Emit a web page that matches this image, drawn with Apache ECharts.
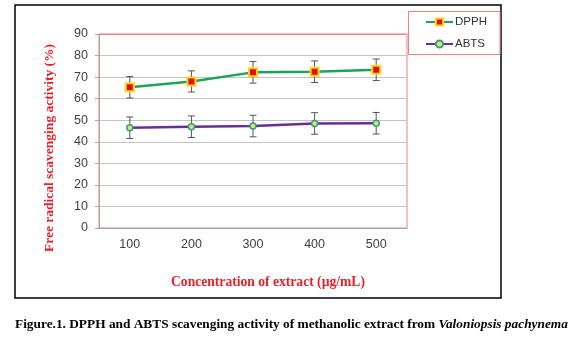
<!DOCTYPE html>
<html><head><meta charset="utf-8">
<script src="https://cdn.jsdelivr.net/npm/echarts@6/dist/echarts.min.js"></script>
<style>html,body{margin:0;padding:0;background:#fff}#c{width:573px;height:337px}</style>
</head><body><div id="c"></div>
<script>
var categories = ['100', '200', '300', '400', '500'];
var dpph = [65.3, 68.0, 72.2, 72.5, 73.4];
var abts = [46.5, 47.0, 47.3, 48.5, 48.6];
var dpphErr = [5, 4.9, 5, 5, 5];
var abtsErr = [5, 5, 5, 5, 5];
var yTicks = {min: 0, max: 90, interval: 10};

function errData(vals, errs) {
  return vals.map(function (v, i) { return [i, v - errs[i], v + errs[i]]; });
}
function errRender(params, api) {
  var lo = api.coord([api.value(0), api.value(1)]);
  var hi = api.coord([api.value(0), api.value(2)]);
  var w = 3.5;
  var st = {stroke: '#555', lineWidth: 1};
  return {type: 'group', children: [
    {type: 'line', shape: {x1: lo[0], y1: lo[1], x2: hi[0], y2: hi[1]}, style: st},
    {type: 'line', shape: {x1: lo[0] - w, y1: lo[1], x2: lo[0] + w, y2: lo[1]}, style: st},
    {type: 'line', shape: {x1: hi[0] - w, y1: hi[1], x2: hi[0] + w, y2: hi[1]}, style: st}
  ]};
}
var splitColors = [];
for (var k = 0; k < 9; k++) splitColors.push('#c4c4c4');
splitColors.push('#ef8080');

var chart = echarts.init(document.getElementById('c'));
chart.setOption({
  animation: false,
  grid: {left: 99, right: 166, top: 34, bottom: 109, show: true, borderColor: '#ef8080', borderWidth: 1},
  legend: {
    orient: 'vertical', left: 425, top: 16, padding: 0,
    itemWidth: 27, itemHeight: 9, itemGap: 10,
    textStyle: {fontFamily: 'Liberation Sans', fontSize: 11.5, color: '#333', padding: [0, 0, 0, -3]},
    data: ['DPPH', 'ABTS']
  },
  xAxis: {
    type: 'category', data: categories,
    axisLine: {lineStyle: {color: '#a6a6a6'}},
    axisTick: {length: 4, lineStyle: {color: '#a6a6a6'}},
    axisLabel: {margin: 10, fontFamily: 'Liberation Sans', fontSize: 12.5, color: '#404040'}
  },
  yAxis: {
    type: 'value', min: yTicks.min, max: yTicks.max, interval: yTicks.interval,
    axisLine: {show: true, lineStyle: {color: '#a6a6a6'}},
    axisTick: {show: true, length: 4, lineStyle: {color: '#a6a6a6'}},
    axisLabel: {margin: 11, fontFamily: 'Liberation Sans', fontSize: 12.5, color: '#404040'},
    splitLine: {lineStyle: {color: splitColors}}
  },
  series: [
    {name: 'DPPH', type: 'line', data: dpph, symbol: 'rect', symbolSize: 8,
     lineStyle: {color: '#1fa35a', width: 2.5},
     itemStyle: {color: '#e01010', borderColor: '#ffd21a', borderWidth: 2}, z: 3},
    {name: 'ABTS', type: 'line', data: abts, symbol: 'circle', symbolSize: 6,
     lineStyle: {color: '#6a2c9a', width: 2.5},
     itemStyle: {color: '#d4e86a', borderColor: '#3a9a8a', borderWidth: 1.5}, z: 3},
    {type: 'custom', renderItem: errRender, data: errData(dpph, dpphErr), z: 2, silent: true},
    {type: 'custom', renderItem: errRender, data: errData(abts, abtsErr), z: 2, silent: true}
  ],
  graphic: [
    {type: 'rect', shape: {x: 15, y: 5, width: 486, height: 293}, style: {fill: 'none', stroke: '#000', lineWidth: 1.5}, silent: true},
    {type: 'rect', shape: {x: 408.5, y: 11.5, width: 91.5, height: 43}, style: {fill: 'none', stroke: '#ef8080', lineWidth: 1}, silent: true},
    {type: 'text', x: 50, y: 148, rotation: Math.PI / 2, style: {
      text: 'Free radical scavenging activity (%)', align: 'center', verticalAlign: 'middle',
      font: 'bold 13.5px "Liberation Serif"', fill: '#e8202a'}},
    {type: 'text', x: 268, y: 282, style: {
      text: 'Concentration of extract (µg/mL)', align: 'center', verticalAlign: 'middle',
      font: 'bold 13.6px "Liberation Serif"', fill: '#e8202a'}},
    {type: 'text', x: 15, y: 325, style: {
      text: '{b|Figure.1. DPPH and ABTS scavenging activity of methanolic extract from }{i|Valoniopsis pachynema}',
      verticalAlign: 'middle',
      rich: {
        b: {fontFamily: 'Liberation Serif', fontWeight: 'bold', fontSize: 13.35, fill: '#000'},
        i: {fontFamily: 'Liberation Serif', fontWeight: 'bold', fontStyle: 'italic', fontSize: 13.35, fill: '#000'}
      }}}
  ]
});
</script></body></html>
